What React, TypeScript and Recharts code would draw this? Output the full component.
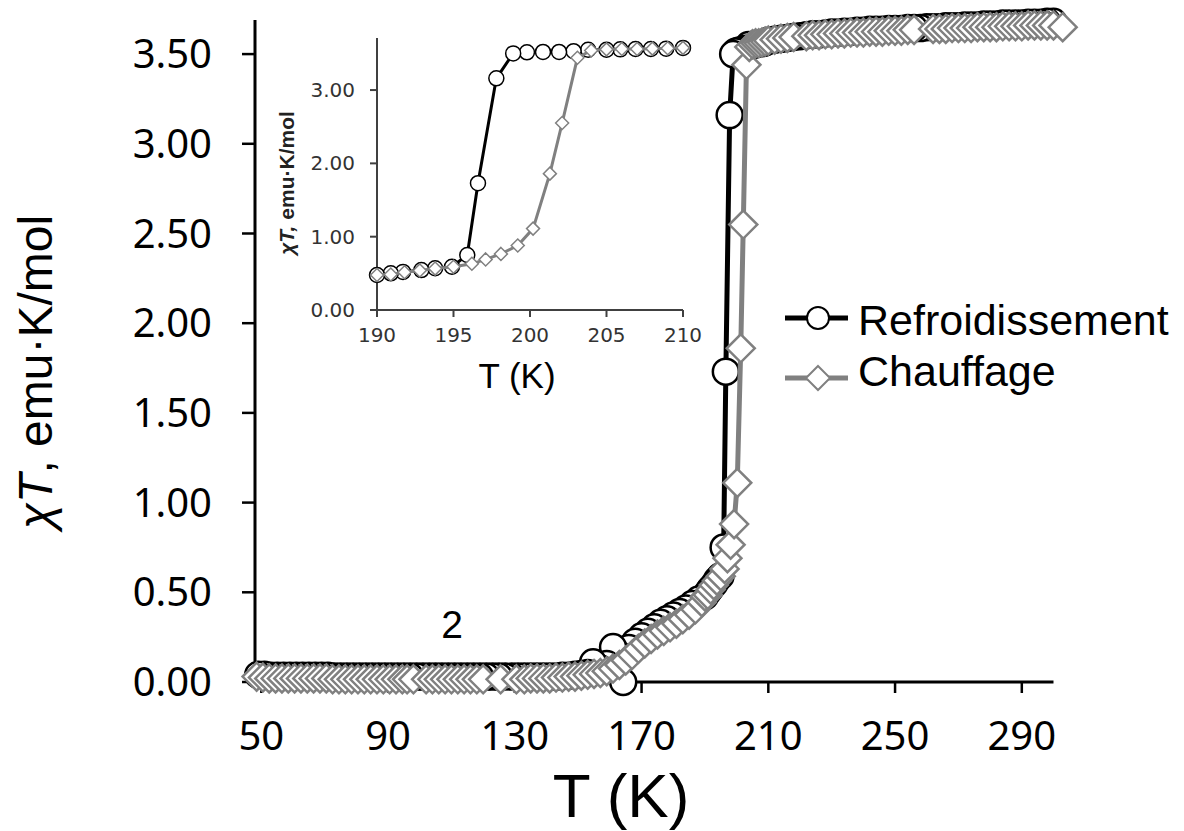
import React from 'react';
import { ScatterChart, Scatter, XAxis, YAxis, ReferenceLine, ReferenceDot, Legend } from 'recharts';

// [T (K), chiT (emu.K/mol)]
const heating: [number, number][] = [
  [48.5, 0.03], [50.5, 0.025], [52.5, 0.02], [54.5, 0.02], [56.5, 0.02], [58.5, 0.02], [60.5, 0.02], [62.5, 0.02],
  [64.5, 0.02], [66.5, 0.02], [68.5, 0.02], [70.5, 0.02], [72.5, 0.015], [74.5, 0.015], [76.5, 0.015], [78.5, 0.015],
  [80.5, 0.015], [82.5, 0.015], [84.5, 0.015], [86.5, 0.015], [88.5, 0.015], [90.5, 0.015], [92.5, 0.015], [94.5, 0.015],
  [96, 0.015], [98, 0.015], [102, 0.015], [104, 0.015], [106, 0.015], [108, 0.015], [110, 0.015], [112, 0.015],
  [114, 0.015], [116, 0.015], [118, 0.015], [120, 0.015], [125.5, 0.015], [130.5, 0.015], [133, 0.015], [135, 0.02],
  [137, 0.02], [139, 0.02], [141, 0.02], [143, 0.025], [145, 0.025], [147, 0.03], [149, 0.03], [151, 0.035],
  [153, 0.04], [155, 0.045], [157, 0.05], [159, 0.06], [161, 0.075], [163, 0.095], [165, 0.12], [167, 0.15],
  [169, 0.185], [171, 0.215], [173, 0.24], [175, 0.265], [177, 0.285], [179, 0.305], [181, 0.325], [183, 0.35],
  [185, 0.375], [187, 0.405], [189, 0.445], [190, 0.477], [190.9, 0.485], [191.8, 0.515], [192.8, 0.54], [193.8, 0.565],
  [195, 0.59], [196.2, 0.63], [197.1, 0.69], [198.1, 0.765], [199.2, 0.88], [200.2, 1.11], [201.3, 1.86], [202.1, 2.55],
  [203.1, 3.44], [204, 3.54], [205, 3.555], [206, 3.56], [207, 3.56], [208, 3.565], [209, 3.57], [210, 3.575],
  [212, 3.58], [214, 3.585], [216, 3.59], [218, 3.595], [222, 3.6], [224, 3.605], [226, 3.605], [228, 3.61],
  [230, 3.61], [232, 3.615], [234, 3.615], [236, 3.62], [238, 3.62], [240, 3.62], [242, 3.625], [244, 3.625],
  [246, 3.625], [248, 3.63], [250, 3.63], [252, 3.63], [254, 3.635], [256, 3.635], [262, 3.64], [264, 3.64],
  [266, 3.64], [268, 3.645], [270, 3.645], [272, 3.645], [274, 3.645], [276, 3.65], [278, 3.65], [280, 3.65],
  [282, 3.65], [284, 3.655], [286, 3.655], [288, 3.655], [290, 3.655], [292, 3.66], [294, 3.66], [296, 3.66],
  [298, 3.66], [300, 3.66], [302.9, 3.65],
];

const cooling: [number, number][] = [
  [300, 3.68], [298, 3.68], [296, 3.675], [294, 3.675], [292, 3.675], [290, 3.67], [288, 3.67], [286, 3.67],
  [284, 3.67], [282, 3.665], [280, 3.665], [278, 3.665], [276, 3.66], [274, 3.66], [272, 3.66], [270, 3.655],
  [268, 3.655], [266, 3.655], [264, 3.65], [262, 3.65], [260, 3.65], [258, 3.645], [256, 3.645], [254, 3.645],
  [252, 3.64], [250, 3.64], [248, 3.64], [246, 3.635], [244, 3.635], [242, 3.635], [240, 3.63], [238, 3.63],
  [236, 3.625], [234, 3.625], [232, 3.62], [230, 3.62], [228, 3.615], [226, 3.61], [224, 3.61], [222, 3.605],
  [220, 3.6], [218, 3.595], [216, 3.59], [214, 3.585], [212, 3.58], [210, 3.575], [208.9, 3.565], [207.9, 3.56],
  [206.9, 3.56], [205.9, 3.555], [205, 3.55], [203.8, 3.55], [202.85, 3.53], [201.9, 3.52], [200.85, 3.52], [199.8, 3.515],
  [198.9, 3.5], [197.8, 3.16], [196.6, 1.73], [195.9, 0.75], [194.9, 0.59], [193.8, 0.57], [192.9, 0.545], [191.7, 0.52],
  [190.9, 0.5], [190, 0.477], [188, 0.46], [186, 0.435], [184, 0.41], [182, 0.39], [180, 0.37], [178, 0.35],
  [176, 0.33], [174, 0.305], [172, 0.28], [170, 0.255], [168, 0.225], [166, 0.19], [164.2, 0.0], [163, 0.15],
  [161, 0.195], [159, 0.1], [157, 0.075], [154.7, 0.11], [153, 0.05], [151, 0.045], [149, 0.04], [147, 0.035],
  [145, 0.035], [143, 0.03], [141, 0.03], [139, 0.03], [137, 0.03], [135, 0.03], [133, 0.03], [131, 0.03],
  [129, 0.03], [127, 0.03], [125, 0.03], [123, 0.03], [121, 0.03], [119, 0.03], [117, 0.03], [115, 0.03],
  [113, 0.03], [111, 0.03], [109, 0.03], [107, 0.03], [105, 0.03], [103, 0.03], [101, 0.03], [99, 0.03],
  [97, 0.03], [95, 0.03], [93, 0.03], [91, 0.03], [89, 0.03], [87, 0.03], [85, 0.03], [83, 0.03],
  [81, 0.03], [79, 0.03], [77, 0.03], [75, 0.03], [73, 0.03], [71, 0.035], [69, 0.035], [67, 0.035],
  [65, 0.035], [63, 0.035], [61, 0.035], [59, 0.035], [57, 0.035], [55, 0.035], [53, 0.035], [51, 0.04],
  [49, 0.04],
];

const mainXTicks = [50, 90, 130, 170, 210, 250, 290];
const mainYTicks = [0, 0.5, 1, 1.5, 2, 2.5, 3, 3.5];
const insetXTicks = [190, 195, 200, 205, 210];
const insetYTicks = [0, 1, 2, 3];

const GRAY = '#808080';
const SANS = 'Liberation Sans, Arial, sans-serif';

const toRows = (pts: [number, number][]) => pts.map(([t, chi]) => ({ t, chi }));
const inInset = (pts: [number, number][]) => toRows(pts.filter(([t]) => t >= 190 && t <= 210));

const circle = (r: number, sw: number) => (p: any) => (
  <circle cx={p.cx} cy={p.cy} r={r} fill="#fff" stroke="#000" strokeWidth={sw} />
);
const diamond = (h: number, sw: number) => (p: any) => (
  <polygon
    points={`${p.cx},${p.cy - h} ${p.cx + h},${p.cy} ${p.cx},${p.cy + h} ${p.cx - h},${p.cy}`}
    fill="#fff"
    stroke={GRAY}
    strokeWidth={sw}
  />
);

const renderLegend = () => (
  <svg width={404} height={120}>
    <line x1={5} y1={30} x2={68} y2={30} stroke="#000" strokeWidth={5} />
    <circle cx={38} cy={30} r={11} fill="#fff" stroke="#000" strokeWidth={2} />
    <text x={78} y={47} fontSize={43} fontFamily={SANS} fill="#000">Refroidissement</text>
    <line x1={5} y1={90} x2={68} y2={90} stroke={GRAY} strokeWidth={5} />
    <polygon points="38,78 50,90 38,102 26,90" fill="#fff" stroke={GRAY} strokeWidth={2} />
    <text x={78} y={98} fontSize={43} fontFamily={SANS} fill="#000">Chauffage</text>
  </svg>
);

const mainXTitle = () => (
  <text x={621} y={817} textAnchor="middle" fontSize={62} fontFamily={SANS} fill="#000">T (K)</text>
);
const mainYTitle = () => (
  <text x={52} y={372} transform="rotate(-90, 52, 372)" textAnchor="middle" fontSize={48} fontFamily={SANS} fill="#000">
    <tspan fontStyle="italic">χT</tspan>, emu·K/mol
  </text>
);
const insetXTitle = () => (
  <text x={257} y={388} textAnchor="middle" fontSize={35} fontFamily={SANS} fill="#000">T (K)</text>
);
const insetYTitle = () => (
  <text x={34} y={183} transform="rotate(-90, 34, 183)" textAnchor="middle" fontSize={21} fontWeight="bold" fontFamily={SANS} fill="#222">
    <tspan fontStyle="italic">χT,</tspan> emu·K/mol
  </text>
);

export default function App() {
  return (
    <div style={{ position: 'absolute', left: 0, top: 0, width: 1184, height: 831, background: '#fff' }}>
      <div style={{ position: 'absolute', left: 0, top: 0 }}>
        <ScatterChart width={1184} height={831} margin={{ top: 20, right: 121, bottom: 0, left: 0 }}>
          <XAxis
            type="number"
            dataKey="t"
            domain={[48, 303]}
            ticks={mainXTicks}
            interval={0}
            height={149}
            axisLine={false}
            tickLine={{ stroke: '#000', strokeWidth: 2.5 }}
            tickSize={11}
            tickMargin={29}
            tick={{ fill: '#000', fontSize: 40, fontFamily: 'Noto Sans' }}
            label={mainXTitle}
          />
          <YAxis
            type="number"
            dataKey="chi"
            domain={[0, 3.69]}
            ticks={mainYTicks}
            interval={0}
            width={255}
            axisLine={{ stroke: '#000', strokeWidth: 3 }}
            tickLine={{ stroke: '#000', strokeWidth: 2.5 }}
            tickSize={13}
            tickMargin={30}
            tickFormatter={(v: number) => v.toFixed(2)}
            tick={{ fill: '#000', fontSize: 40, fontFamily: 'Noto Sans' }}
            label={mainYTitle}
          />
          <ReferenceLine segment={[{ x: 48, y: 0 }, { x: 300, y: 0 }]} stroke="#000" strokeWidth={3} />
          <Scatter
            name="Refroidissement"
            data={toRows(cooling)}
            line={{ stroke: '#000', strokeWidth: 5 }}
            lineType="joint"
            shape={circle(13, 2.5)}
            isAnimationActive={false}
          />
          <Scatter
            name="Chauffage"
            data={toRows(heating)}
            line={{ stroke: GRAY, strokeWidth: 5 }}
            lineType="joint"
            shape={diamond(14, 2.5)}
            isAnimationActive={false}
          />
          <ReferenceDot
            x={110.2}
            y={0.32}
            r={0}
            stroke="none"
            label={{ value: '2', position: 'center', fontSize: 39, fontFamily: SANS, fill: '#000' }}
          />
          <Legend
            layout="horizontal"
            verticalAlign="middle"
            align="center"
            content={renderLegend}
            wrapperStyle={{ left: 780, top: 288, width: 404, height: 120 }}
          />
        </ScatterChart>
      </div>
      <div style={{ position: 'absolute', left: 260, top: 0 }}>
        <ScatterChart width={470} height={400} margin={{ top: 38, right: 47, bottom: 0, left: 0 }}>
          <XAxis
            type="number"
            dataKey="t"
            domain={[190, 210]}
            ticks={insetXTicks}
            interval={0}
            height={90}
            axisLine={{ stroke: '#404040', strokeWidth: 2 }}
            tickLine={{ stroke: '#404040', strokeWidth: 2 }}
            tickSize={7}
            tickMargin={11}
            tick={{ fill: '#333', fontSize: 20, fontFamily: 'DejaVu Sans' }}
            label={insetXTitle}
          />
          <YAxis
            type="number"
            dataKey="chi"
            domain={[0, 3.71]}
            ticks={insetYTicks}
            interval={0}
            width={117}
            axisLine={{ stroke: '#404040', strokeWidth: 2 }}
            tickLine={{ stroke: '#404040', strokeWidth: 2 }}
            tickSize={7}
            tickMargin={15}
            tickFormatter={(v: number) => v.toFixed(2)}
            tick={{ fill: '#333', fontSize: 20, fontFamily: 'DejaVu Sans' }}
            label={insetYTitle}
          />
          <Scatter
            data={inInset(cooling)}
            line={{ stroke: '#000', strokeWidth: 3 }}
            lineType="joint"
            shape={circle(7.5, 1.5)}
            isAnimationActive={false}
          />
          <Scatter
            data={inInset(heating)}
            line={{ stroke: GRAY, strokeWidth: 3 }}
            lineType="joint"
            shape={diamond(6.5, 1.5)}
            isAnimationActive={false}
          />
        </ScatterChart>
      </div>
    </div>
  );
}
